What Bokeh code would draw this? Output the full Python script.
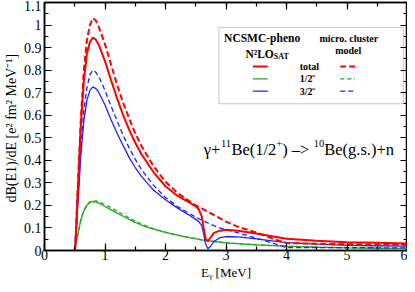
import numpy as np
from bokeh.plotting import figure
from bokeh.models import (LinearAxis, SingleIntervalTicker, CustomJSTickFormatter,
                          BoxAnnotation, Label, Range1d)
from bokeh.embed import file_html
from bokeh.resources import INLINE

# ---------------- data ----------------
E_total = [0.504, 0.52, 0.55, 0.6, 0.65, 0.7, 0.75, 0.8, 0.85, 0.9, 1.0, 1.1, 1.2, 1.3, 1.4,
           1.5, 1.6, 1.8, 2.0, 2.2, 2.4, 2.5, 2.55, 2.6, 2.63, 2.66, 2.7, 2.75, 2.8, 2.9,
           3.0, 3.2, 3.5, 4.0, 4.5, 5.0, 5.5, 6.0]
ncsmc_total = [0.0, 0.08, 0.26, 0.55, 0.75, 0.87, 0.925, 0.945, 0.935, 0.91, 0.84, 0.755, 0.675,
               0.60, 0.535, 0.478, 0.428, 0.348, 0.285, 0.242, 0.212, 0.196, 0.182, 0.15, 0.10,
               0.055, 0.04, 0.06, 0.078, 0.088, 0.092, 0.088, 0.075, 0.052, 0.043, 0.037, 0.034, 0.031]
ncsmc_32 = [0.0, 0.06, 0.20, 0.42, 0.575, 0.665, 0.71, 0.726, 0.718, 0.70, 0.645, 0.58, 0.52,
            0.465, 0.412, 0.368, 0.33, 0.268, 0.225, 0.188, 0.155, 0.138, 0.128, 0.11, 0.075,
            0.03, 0.008, 0.02, 0.04, 0.057, 0.062, 0.06, 0.052, 0.035, 0.028, 0.023, 0.021, 0.019]

E_half = [0.504, 0.52, 0.55, 0.6, 0.65, 0.7, 0.75, 0.8, 0.85, 0.9, 1.0, 1.1, 1.2, 1.3, 1.4,
          1.5, 1.6, 1.8, 2.0, 2.2, 2.4, 2.6, 2.8, 3.0, 3.5, 4.0, 4.5, 5.0, 5.5, 6.0]
ncsmc_12 = [0.0, 0.03, 0.07, 0.135, 0.175, 0.20, 0.213, 0.217, 0.215, 0.21, 0.195, 0.18, 0.166,
            0.152, 0.138, 0.125, 0.113, 0.095, 0.08, 0.068, 0.057, 0.047, 0.04, 0.034, 0.025,
            0.019, 0.015, 0.012, 0.010, 0.009]
cluster_12 = [0.0, 0.03, 0.07, 0.135, 0.177, 0.203, 0.216, 0.22, 0.22, 0.216, 0.204, 0.19, 0.175,
              0.16, 0.145, 0.13, 0.117, 0.097, 0.081, 0.068, 0.057, 0.047, 0.04, 0.034, 0.025,
              0.019, 0.015, 0.012, 0.010, 0.009]

E_clu = [0.504, 0.52, 0.55, 0.6, 0.65, 0.7, 0.75, 0.8, 0.85, 0.9, 1.0, 1.1, 1.2, 1.3, 1.4,
         1.5, 1.6, 1.8, 2.0, 2.2, 2.4, 2.5, 2.6, 2.7, 2.8, 2.9, 3.0, 3.2, 3.5, 3.8, 4.0,
         4.5, 5.0, 5.5, 6.0]
cluster_total = [0.0, 0.09, 0.28, 0.58, 0.80, 0.93, 1.0, 1.03, 1.02, 0.99, 0.915, 0.825, 0.735,
                 0.655, 0.585, 0.52, 0.465, 0.375, 0.305, 0.255, 0.218, 0.20, 0.187, 0.172,
                 0.158, 0.143, 0.128, 0.105, 0.080, 0.05, 0.033, 0.030, 0.028, 0.026, 0.025]
cluster_32 = [0.0, 0.065, 0.215, 0.45, 0.62, 0.72, 0.78, 0.80, 0.79, 0.77, 0.71, 0.64, 0.575,
              0.51, 0.455, 0.405, 0.36, 0.29, 0.235, 0.195, 0.163, 0.148, 0.135, 0.122, 0.11,
              0.10, 0.092, 0.078, 0.055, 0.03, 0.013, 0.013, 0.013, 0.012, 0.012]

x_ticks = [0, 1, 2, 3, 4, 5, 6]
y_ticks = [0, 0.1, 0.2, 0.3, 0.4, 0.5, 0.6, 0.7, 0.8, 0.9, 1.0, 1.1]

RED = "#ff0000"
GREEN = "#22a822"
BLUE = "#2020ff"
SERIF = "Liberation Serif"

p = figure(width=407, height=282, output_backend="svg", toolbar_location=None,
           x_range=Range1d(0, 6), y_range=Range1d(0, 1.1),
           min_border_left=33, min_border_top=2, min_border_right=0, min_border_bottom=29)
p.xgrid.visible = False
p.ygrid.visible = False
p.outline_line_color = "black"
p.outline_line_width = 1.5
p.background_fill_color = "white"
p.border_fill_color = "white"

fmt = CustomJSTickFormatter(code="return String(Number(tick.toFixed(2)));")
blank = CustomJSTickFormatter(code="return '';")

def style_axis(ax):
    ax.axis_line_width = 1.5
    ax.major_tick_in = 7
    ax.major_tick_out = 0
    ax.minor_tick_in = 4
    ax.minor_tick_out = 0
    ax.major_tick_line_width = 1.2
    ax.minor_tick_line_width = 1.2
    ax.major_label_text_font = SERIF
    ax.major_label_text_font_size = "14px"
    ax.major_label_text_color = "black"
    ax.axis_label_text_font = SERIF
    ax.axis_label_text_font_style = "normal"
    ax.axis_label_text_color = "black"

p.xaxis.ticker = SingleIntervalTicker(interval=1, num_minor_ticks=2)
p.yaxis.ticker = SingleIntervalTicker(interval=0.1, num_minor_ticks=2)
p.xaxis.formatter = fmt
p.yaxis.formatter = fmt
style_axis(p.xaxis[0])
style_axis(p.yaxis[0])
p.xaxis.major_label_standoff = -1
p.yaxis.major_label_standoff = 3
p.xaxis.axis_label = "Eᵧ [MeV]"
p.xaxis.axis_label_text_font_size = "13px"
p.xaxis.axis_label_standoff = 2
p.yaxis.axis_label = "dB(E1)/dE  [e² fm² MeV⁻¹]"
p.yaxis.axis_label_text_font_size = "14px"
p.yaxis.axis_label_standoff = 2

top_ax = LinearAxis(ticker=SingleIntervalTicker(interval=1, num_minor_ticks=2), formatter=blank)
right_ax = LinearAxis(ticker=SingleIntervalTicker(interval=0.1, num_minor_ticks=2), formatter=blank)
for ax in (top_ax, right_ax):
    style_axis(ax)
    ax.major_label_standoff = 0
    ax.major_label_text_font_size = "1px"
    ax.axis_label = None
p.add_layout(top_ax, "above")
p.add_layout(right_ax, "right")

# curves
p.line(E_half, cluster_12, line_color=GREEN, line_width=1.3, line_dash="4 3")
p.line(E_half, ncsmc_12, line_color=GREEN, line_width=1.3)
p.line(E_clu, cluster_32, line_color=BLUE, line_width=1.3, line_dash="5 3")
p.line(E_total, ncsmc_32, line_color=BLUE, line_width=1.3)
p.line(E_clu, cluster_total, line_color=RED, line_width=2, line_dash="6 3")
p.line(E_total, ncsmc_total, line_color=RED, line_width=2)

# legend box (layout positions)
p.add_layout(BoxAnnotation(left=2.883, right=5.93, bottom=0.651, top=0.989,
                           fill_color=None, line_color="#444444", line_width=1))

def lab(x, y, t, size, bold=True, align="center", baseline="middle", xo=0, yo=0):
    p.add_layout(Label(x=x, y=y, text=t, text_font=SERIF, text_font_size=size,
                       text_font_style="bold" if bold else "normal",
                       text_align=align, text_baseline=baseline, text_color="black",
                       x_offset=xo, y_offset=yo))

lab(3.597, 0.941, "NCSMC-pheno", "11.5px")
lab(3.79, 0.871, "N²LO", "11.5px", align="right")
lab(3.79, 0.862, "SAT", "8px", align="left")
lab(5.03, 0.941, "micro. cluster", "10px")
lab(5.02, 0.886, "model", "10px")
lab(4.217, 0.816, "total", "10px", align="left")
lab(4.217, 0.761, "1/2⁻", "10px", align="left")
lab(4.217, 0.707, "3/2⁻", "10px", align="left")

leg_rows = [(0.816, RED, 2, "6 3"), (0.761, GREEN, 1.3, "4 3"), (0.707, BLUE, 1.3, "5 3")]
for yy, c, w, d in leg_rows:
    p.line([3.445, 3.69], [yy, yy], line_color=c, line_width=w)
    p.line([4.888, 5.133], [yy, yy], line_color=c, line_width=w, line_dash=d)

# reaction annotation, built from pieces (superscripts raised and smaller)
ax0, ay0 = 2.632, 0.446
pieces = [("γ+", "16.5px", 0, 0), ("11", "10.5px", 17.2, 6), ("Be(1/2", "16.5px", 27.7, 0),
          ("+", "10.5px", 72.6, 6), (") –> ", "16.5px", 78.5, 0), ("10", "10.5px", 110.0, 6),
          ("Be(g.s.)+n", "16.5px", 120.5, 0)]
for t, fs, xo, yo in pieces:
    lab(ax0, ay0, t, fs, bold=False, align="left", baseline="alphabetic", xo=xo, yo=yo)

open("out.html", "w").write(file_html(p, INLINE))
